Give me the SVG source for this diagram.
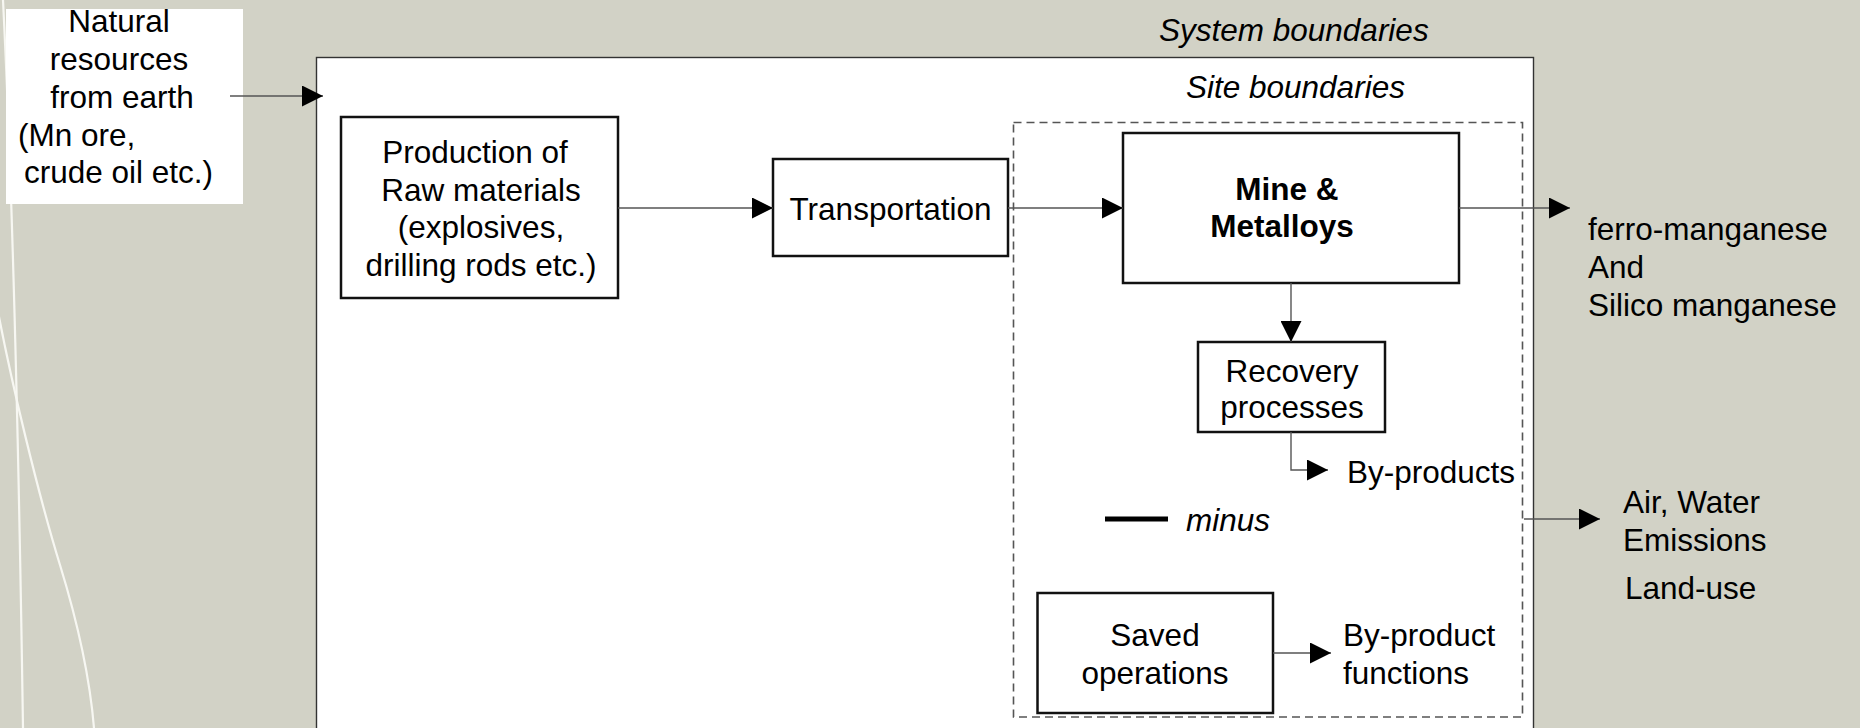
<svg xmlns="http://www.w3.org/2000/svg" width="1860" height="728" viewBox="0 0 1860 728">
  <style>
    text { font-family: "Liberation Sans", Arial, sans-serif; font-size: 31.5px; fill: #000; }
    .c { text-anchor: middle; }
    .b { font-weight: bold; }
    .i { font-style: italic; }
    .box { fill: #fff; stroke: #111; stroke-width: 2.5; }
    .wire { fill: none; stroke: #555; stroke-width: 1.4; }
    .deco { fill: none; stroke: #f7f7f2; stroke-width: 2.2; }
  </style>
  <defs>
    <marker id="head" markerUnits="userSpaceOnUse" markerWidth="21" markerHeight="21" refX="21" refY="10.5" orient="auto">
      <path d="M0,0 L21,10.5 L0,21 Z" fill="#000"/>
    </marker>
  </defs>

  <!-- backdrop with decorative swooshes -->
  <rect x="0" y="0" width="1860" height="728" fill="#d2d2c6"/>
  <path class="deco" d="M3,0 C9,120 17,330 23,728"/>
  <path class="deco" d="M-6,290 C10,380 40,500 60,565 S90,680 94,728"/>

  <!-- system boundary -->
  <g id="system-boundary">
    <rect x="316.5" y="57.5" width="1217" height="700" fill="#fff" stroke="#333" stroke-width="1.4"/>
    <text class="i" x="1159" y="41">System boundaries</text>
  </g>

  <!-- site boundary -->
  <g id="site-boundary">
    <rect x="1013.5" y="122.5" width="509" height="594.5" fill="none" stroke="#555" stroke-width="1.6" stroke-dasharray="8 5"/>
    <text class="i" x="1186" y="98">Site boundaries</text>
  </g>

  <g id="natural-resources">
    <rect x="6" y="9" width="237" height="195" fill="#fff"/>
    <text class="c" x="119" y="32">Natural</text>
    <text class="c" x="119" y="70">resources</text>
    <text class="c" x="122" y="108">from earth</text>
    <text x="18" y="146">(Mn ore,</text>
    <text x="24" y="183">crude oil etc.)</text>
  </g>

  <g id="raw-materials">
    <rect class="box" x="341" y="117" width="277" height="181"/>
    <text class="c" x="475" y="163">Production of</text>
    <text class="c" x="481" y="201">Raw materials</text>
    <text class="c" x="481" y="238">(explosives,</text>
    <text class="c" x="481" y="276">drilling rods etc.)</text>
  </g>

  <g id="transportation">
    <rect class="box" x="773" y="159" width="235" height="97"/>
    <text class="c" x="890.5" y="219.5">Transportation</text>
  </g>

  <g id="mine-metalloys">
    <rect class="box" x="1123" y="133" width="336" height="150"/>
    <text class="c b" x="1287" y="200">Mine &amp;</text>
    <text class="c b" x="1282" y="237">Metalloys</text>
  </g>

  <g id="recovery">
    <rect class="box" x="1198" y="342" width="187" height="90"/>
    <text class="c" x="1292" y="382">Recovery</text>
    <text class="c" x="1292" y="418">processes</text>
  </g>

  <g id="by-products">
    <text x="1347" y="483">By-products</text>
  </g>

  <g id="minus">
    <line x1="1105" y1="519" x2="1168" y2="519" stroke="#000" stroke-width="5"/>
    <text class="i" x="1186" y="531">minus</text>
  </g>

  <g id="saved-operations">
    <rect class="box" x="1037.5" y="593" width="235.5" height="120"/>
    <text class="c" x="1155" y="646">Saved</text>
    <text class="c" x="1155" y="684">operations</text>
  </g>

  <g id="by-product-functions">
    <text x="1343" y="646">By-product</text>
    <text x="1343" y="684">functions</text>
  </g>

  <g id="products">
    <text x="1588" y="240">ferro-manganese</text>
    <text x="1588" y="278">And</text>
    <text x="1588" y="316">Silico manganese</text>
  </g>

  <g id="emissions">
    <text x="1623" y="513">Air, Water</text>
    <text x="1623" y="551">Emissions</text>
    <text x="1625" y="599">Land-use</text>
  </g>

  <!-- connectors -->
  <g id="connectors">
    <line class="wire" x1="230" y1="96" x2="323" y2="96" marker-end="url(#head)"/>
    <line class="wire" x1="618" y1="208" x2="773" y2="208" marker-end="url(#head)"/>
    <line class="wire" x1="1008" y1="208" x2="1123" y2="208" marker-end="url(#head)"/>
    <line class="wire" x1="1459" y1="208" x2="1570" y2="208" marker-end="url(#head)"/>
    <line class="wire" x1="1291" y1="283" x2="1291" y2="342" marker-end="url(#head)"/>
    <path class="wire" d="M1291,432 V470 H1328" marker-end="url(#head)"/>
    <line class="wire" x1="1524" y1="519" x2="1600" y2="519" marker-end="url(#head)"/>
    <line class="wire" x1="1273" y1="653" x2="1331" y2="653" marker-end="url(#head)"/>
  </g>
</svg>
